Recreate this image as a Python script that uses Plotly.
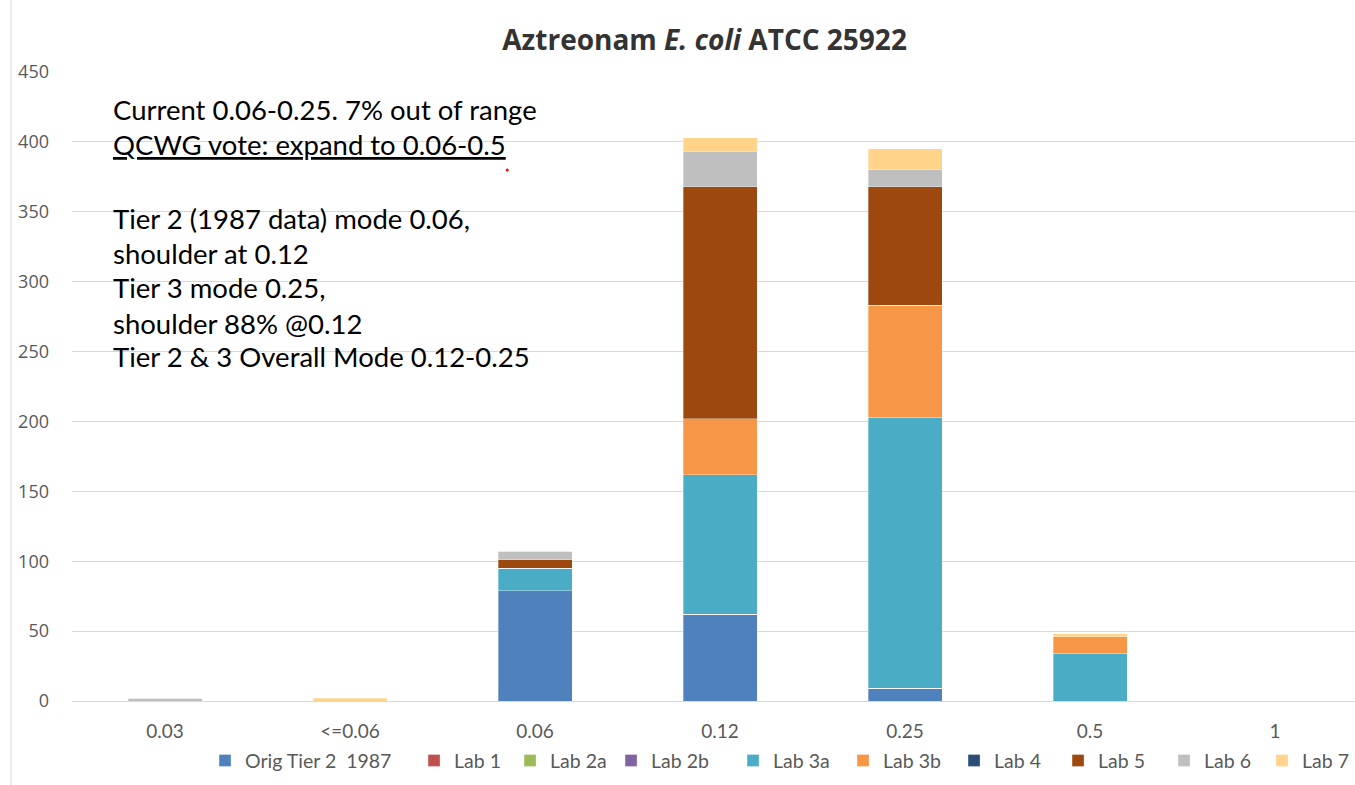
import plotly.graph_objects as go

# MIC categories (µg/mL) and counts per source
categories = ["0.03", "<=0.06", "0.06", "0.12", "0.25", "0.5", "1"]

orig_tier2_1987 = [0, 0, 79, 62, 9, 0, 0]
lab1 = [0, 0, 0, 0, 0, 0, 0]
lab2a = [0, 0, 0, 0, 0, 0, 0]
lab2b = [0, 0, 0, 0, 0, 0, 0]
lab3a = [0, 0, 16, 100, 194, 34, 0]
lab3b = [0, 0, 0, 40, 80, 12, 0]
lab4 = [0, 0, 0, 0, 0, 0, 0]
lab5 = [0, 0, 6, 166, 85, 0, 0]
lab6 = [2, 0, 6, 25, 12, 0, 0]
lab7 = [0, 2, 0, 10, 15, 2, 0]

series_names = ["Orig Tier 2  1987", "Lab 1", "Lab 2a", "Lab 2b", "Lab 3a",
                "Lab 3b", "Lab 4", "Lab 5", "Lab 6", "Lab 7"]
series_values = [orig_tier2_1987, lab1, lab2a, lab2b, lab3a,
                 lab3b, lab4, lab5, lab6, lab7]
series_colors = ["#4F81BD", "#C0504D", "#9BBB59", "#8064A2", "#4BACC6",
                 "#F79646", "#2C4D75", "#9C480E", "#BFBFBF", "#FFD38A"]
# horizontal room reserved for each legend entry's label
legend_widths = [164, 51, 56, 77, 65, 66, 59, 61, 53, 42]

note_lines = [
    "Current 0.06-0.25. 7% out of range",
    "<u>QCWG vote: expand to 0.06-0.5</u>",
    "Tier 2 (1987 data) mode 0.06,",
    "shoulder at 0.12",
    "Tier 3 mode 0.25,",
    "shoulder 88% @0.12",
    "Tier 2 & 3 Overall Mode 0.12-0.25",
]
note_y = [0.9411, 0.8855, 0.7663, 0.7122, 0.6566, 0.6009, 0.5469]

fig = go.Figure()
for name, vals, col, lw in zip(series_names, series_values, series_colors, legend_widths):
    fig.add_trace(go.Bar(
        x=categories, y=vals, name=name,
        marker=dict(color=col, line=dict(color="rgba(255,255,255,0.55)", width=0.6)),
        legendwidth=lw,
    ))

annotations = []
for txt, yy in zip(note_lines, note_y):
    annotations.append(dict(
        text=txt, xref="paper", yref="paper", x=0.0305, y=yy,
        xanchor="left", yanchor="middle", showarrow=False,
        font=dict(family="Lato", size=27.5, color="#000000"),
    ))

fig.update_layout(
    width=1355, height=785,
    margin=dict(l=72, r=0, t=72, b=84),
    paper_bgcolor="white", plot_bgcolor="white",
    barmode="stack", bargap=0.6,
    title=dict(
        text="<b>Aztreonam <i>E. coli</i> ATCC 25922</b>",
        x=0.52, xanchor="center", y=0.949, yanchor="middle",
        font=dict(family="Open Sans", size=28, color="#333333"),
    ),
    xaxis=dict(
        type="category", range=[-0.5027, 6.432],
        showgrid=False, showline=True, linecolor="#D9D9D9", linewidth=1,
        ticks="", ticklabelstandoff=13,
        tickfont=dict(family="Lato", size=19, color="#595959"),
        zeroline=False, fixedrange=True,
    ),
    yaxis=dict(
        range=[0, 450], tick0=0, dtick=50,
        showgrid=True, gridcolor="#D9D9D9", gridwidth=1,
        showline=False, zeroline=False, ticks="",
        ticklabelstandoff=22,
        tickfont=dict(family="Open Sans", size=18, color="#595959"),
        fixedrange=True,
    ),
    legend=dict(
        orientation="h", x=0.1037, xanchor="left", y=-0.095, yanchor="middle",
        font=dict(family="Lato", size=19.5, color="#595959"),
        traceorder="normal", bgcolor="rgba(0,0,0,0)",
    ),
    annotations=annotations,
    shapes=[
        dict(type="line", xref="paper", yref="paper", x0=-0.0475, x1=-0.0475,
             y0=-0.14, y1=1.12, line=dict(color="#D9D9D9", width=1)),
        dict(type="circle", xref="paper", yref="paper",
             x0=0.3381, x1=0.3404, y0=0.8418, y1=0.8466,
             fillcolor="#FF0000", line=dict(width=0)),
    ],
    showlegend=True,
)

fig.write_html("out.html")
